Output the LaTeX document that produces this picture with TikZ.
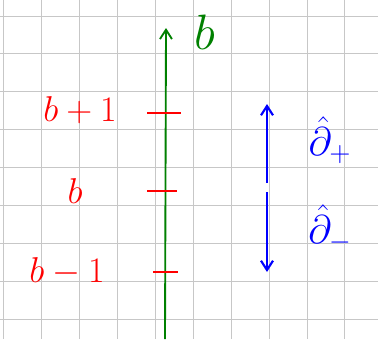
\documentclass[tikz,border=0pt]{standalone}
\usepackage{amsmath}
\usepackage{graphicx}
\usetikzlibrary{arrows.meta,positioning}

\newcommand{\sketchtxt}[2]{\scalebox{#1}{\huge$#2$}}

\begin{document}
\begin{tikzpicture}[
    x=0.02639cm, y=-0.02639cm,
    >={Straight Barb[length=7pt,width=9pt]},
    gridline/.style={draw=black!22, line width=0.75pt},
    axis/.style={->, draw=green!50!black, line width=1.4pt},
    tick/.style={draw=red, line width=1.6pt},
    lbl/.style={text=red},
    shiftarrow/.style={->, draw=blue, line width=1.6pt},
    oplbl/.style={text=blue}
]
\useasboundingbox (0,0) rectangle (378,339);

% Grid
\foreach \i in {0,...,9}
    \draw[gridline] (3.8+37.9*\i,0) -- (3.8+37.9*\i,339);
\foreach \j in {0,...,8}
    \draw[gridline] (0,16+37.9*\j) -- (378,16+37.9*\j);

% Axis
\coordinate (axbot) at (165,339);
\coordinate (axtop) at (166,28);
\draw[axis] (axbot) -- (axtop);
\node[text=green!50!black, anchor=west] (axlbl) at (190,32) {\sketchtxt{1.8}{b}};

% Ticks
\coordinate (tpl) at (147,113); \coordinate (tpr) at (181,113);
\coordinate (t0l) at (147,191); \coordinate (t0r) at (177,191);
\coordinate (tml) at (153,272); \coordinate (tmr) at (178,272);
\draw[tick] (tpl) -- (tpr);
\draw[tick] (t0l) -- (t0r);
\draw[tick] (tml) -- (tmr);

% Labels
\node[lbl] (lblp) at (80,110) {\sketchtxt{1.3}{b+1}};
\node[lbl] (lbl0) at (75,191) {\sketchtxt{1.3}{b}};
\node[lbl] (lblm) at (67,272) {\sketchtxt{1.3}{b-1}};

% Shift operators
\coordinate (upbot) at (267,183);
\coordinate (uptop) at (267,104);
\coordinate (dntop) at (267,192);
\coordinate (dnbot) at (267,272);
\draw[shiftarrow] (upbot) -- (uptop);
\draw[shiftarrow] (dntop) -- (dnbot);
\node[oplbl] (opp) at (330,140) {\sketchtxt{1.45}{\hat{\partial}_+}};
\node[oplbl] (opm) at (330,228) {\sketchtxt{1.45}{\hat{\partial}_-}};

\end{tikzpicture}
\end{document}
